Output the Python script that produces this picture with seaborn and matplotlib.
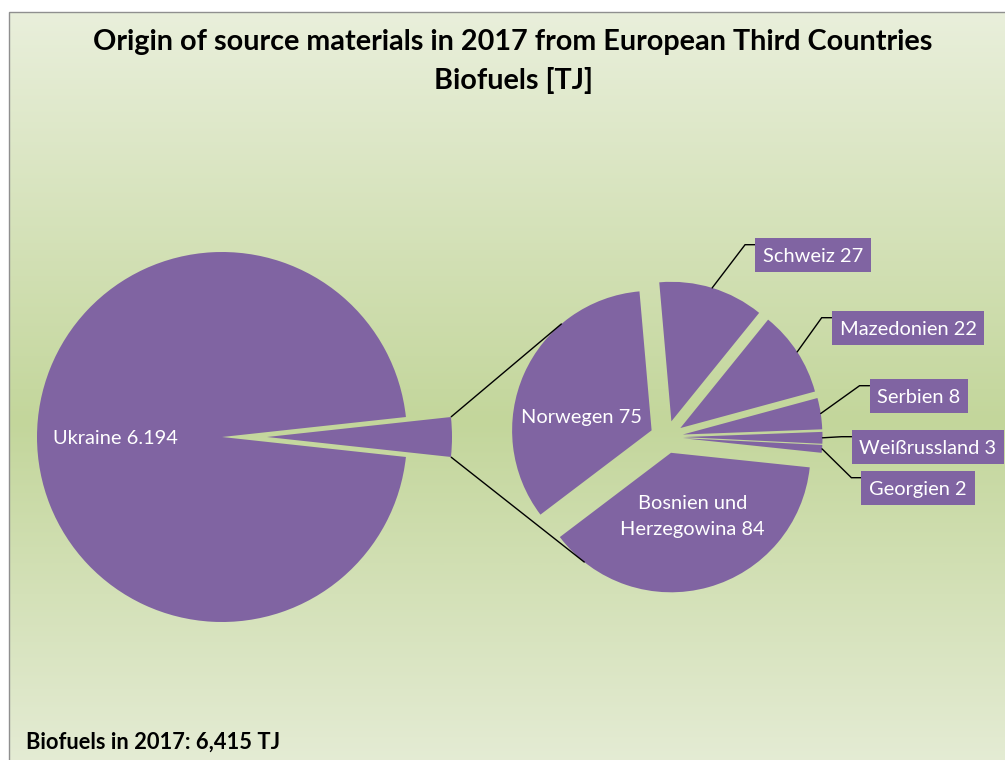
import numpy as np
import matplotlib
matplotlib.use("Agg")
import matplotlib.pyplot as plt
from matplotlib.colors import LinearSegmentedColormap
from matplotlib.patches import Rectangle
import seaborn as sns

# ---- data: origin of biofuel source materials 2017, TJ ----
main_label = "Ukraine"
main_value = 6194
detail_labels = ["Bosnien und\nHerzegowina", "Norwegen", "Schweiz", "Mazedonien",
                 "Serbien", "Weißrussland", "Georgien"]
detail_values = [84, 75, 27, 22, 8, 3, 2]

title_lines = ["Origin of source materials in 2017 from European Third Countries",
               "Biofuels [TJ]"]

other_value = sum(detail_values)
total = main_value + other_value
footer_text = f"Biofuels in 2017: {total:,} TJ"


def de_number(v):
    return f"{v:,}".replace(",", ".")


# ---- style ----
sns.set_theme(style="white")
plt.rcParams["font.family"] = ["Lato", "DejaVu Sans"]

PURPLE = "#8064A2"
W, H = 1005, 760

fig = plt.figure(figsize=(W / 100, H / 100), dpi=100, facecolor="white")
ax = fig.add_axes([0, 0, 1, 1])


def Y(y):
    """Convert a top-down pixel row into axis units."""
    return H - y


# ---- chart area with vertical gradient ----
frame_left, frame_top = 9, Y(12.3)
bg = LinearSegmentedColormap.from_list(
    "bg", [(0.0, "#e9efdb"), (0.54, "#c3d69b"), (1.0, "#e5ecd5")])
ax.imshow(np.linspace(0, 1, 600).reshape(-1, 1), cmap=bg, aspect="auto",
          extent=(frame_left, W + 10, -10, frame_top), origin="upper",
          interpolation="bilinear", zorder=0)
ax.add_patch(Rectangle((frame_left, -10), W + 20, frame_top + 10, fill=False,
                       edgecolor="#8f8f8f", lw=1.0, zorder=1))

# ---- primary pie: Ukraine vs. the remaining countries ----
# (pie offsets are given in axis units, i.e. pixels here)
big_wedges, _ = ax.pie(
    [other_value, main_value], center=(222, Y(437)), radius=185,
    startangle=180 * other_value / total, counterclock=False,
    explode=[45, 0], colors=[PURPLE, PURPLE],
    wedgeprops=dict(linewidth=0, zorder=2), frame=True)

# ---- secondary pie: breakdown of the remaining countries ----
small_wedges, _ = ax.pie(
    detail_values, center=(666.6, Y(437)), radius=139.5,
    startangle=354, counterclock=False,
    explode=[16.4] * len(detail_values), colors=[PURPLE] * len(detail_values),
    wedgeprops=dict(linewidth=0, zorder=2), frame=True)


def polar(w, frac, ang):
    cx, cy = w.center
    a = np.deg2rad(ang)
    return np.array([cx + frac * w.r * np.cos(a), cy + frac * w.r * np.sin(a)])


def mid_angle(w):
    return 0.5 * (w.theta1 + w.theta2)


def tangent_point(p, w, side):
    c = np.array(w.center, dtype=float)
    v = p - c
    d = np.hypot(*v)
    phi = np.arctan2(v[1], v[0])
    a = np.arccos(w.r / d)
    ang = phi - side * a
    return c + w.r * np.array([np.cos(ang), np.sin(ang)])


# ---- connector lines between the two pies ----
ow = big_wedges[0]
p_top = polar(ow, 1.0, ow.theta2)
p_bot = polar(ow, 1.0, ow.theta1)
q_top = tangent_point(p_top, small_wedges[1], +1)
q_bot = tangent_point(p_bot, small_wedges[0], -1)
for p, q in ((p_top, q_top), (p_bot, q_bot)):
    ax.plot([p[0], q[0]], [p[1], q[1]], color="black", lw=1.0, zorder=3,
            solid_capstyle="butt")

renderer = fig.canvas.get_renderer()


def fit(txt, target):
    w = txt.get_window_extent(renderer).width
    txt.set_fontsize(txt.get_fontsize() * target / w)


# label font size
probe = ax.text(0, 0, "Herzegowina 84", fontsize=14)
fit(probe, 145)
LABEL_FS = probe.get_fontsize()
probe.remove()
CAP = 0.7165 * LABEL_FS * 100 / 72


def label_line(x, yc, s):
    return ax.text(x, yc - CAP / 2, s, ha="center", va="baseline",
                   color="white", fontsize=LABEL_FS, zorder=6)


# ---- labels inside slices ----
ax_ukr = polar(big_wedges[1], 0.578, 180)
label_line(ax_ukr[0], ax_ukr[1], f"{main_label} {de_number(main_value)}")

inside = {1: (0.512, 168.4), 0: (0.472, 289.1)}
for i, (frac, ang) in inside.items():
    pos = polar(small_wedges[i], frac, ang)
    lines = f"{detail_labels[i]} {detail_values[i]}".split("\n")
    n = len(lines)
    for k, s in enumerate(lines):
        label_line(pos[0], pos[1] + (n - 1 - 2 * k) * 13.3, s)

# ---- boxed labels outside slices ----
box_centers = {2: (813, 255), 3: (908, 328), 4: (919, 396),
               5: (928, 447), 6: (918, 488)}
PADX, BOXH = 7.8, 33.6
for i, (bx, by) in box_centers.items():
    yc = Y(by)
    t = label_line(bx, yc, f"{detail_labels[i]} {detail_values[i]}")
    tw = t.get_window_extent(renderer).width
    x0 = bx - tw / 2 - PADX
    ax.add_patch(Rectangle((x0, yc - BOXH / 2), tw + 2 * PADX, BOXH,
                           facecolor=PURPLE, edgecolor="none", zorder=5))
    start = polar(small_wedges[i], 1.0, mid_angle(small_wedges[i]))
    yl = yc + BOXH / 2 - 6.5
    ax.plot([start[0], x0 - 10, x0], [start[1], yl, yl], color="black",
            lw=1.0, zorder=3, solid_joinstyle="miter")

# ---- title and footer ----
t1 = ax.text(513, Y(50), title_lines[0], ha="center", va="baseline",
             fontweight="bold", fontsize=20, color="black", zorder=6)
fit(t1, 840)
ax.text(513.7, Y(88.5), title_lines[1], ha="center", va="baseline",
        fontweight="bold", fontsize=t1.get_fontsize(), color="black", zorder=6)

ft = ax.text(26, Y(748.3), footer_text, ha="left", va="baseline",
             fontweight="bold", fontsize=16, color="black", zorder=6)
fit(ft, 254)

ax.set_xlim(0, W)
ax.set_ylim(0, H)
ax.set_aspect("auto")
ax.axis("off")

fig.savefig("out.png", dpi=100, facecolor="white")
